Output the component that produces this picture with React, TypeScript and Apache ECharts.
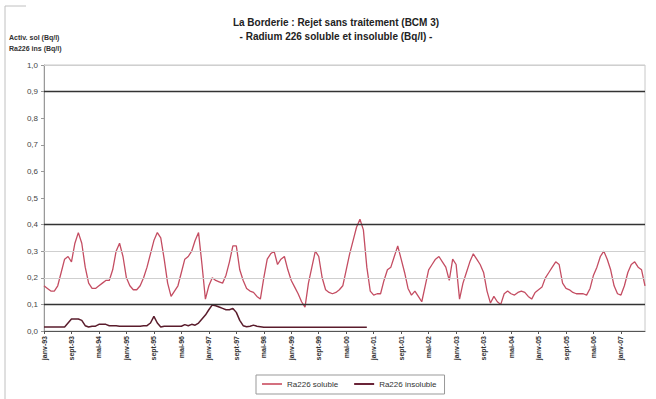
import React, { useEffect, useRef } from "react";
import * as echarts from "echarts";

const monthNames = ["janv", "févr", "mars", "avr", "mai", "juin", "juil", "août", "sept", "oct", "nov", "déc"];
const startYear = 1993;
const monthCount = 176;

const categories: string[] = [];
for (let i = 0; i < monthCount; i++) {
  const m = i % 12;
  const y = (startYear + Math.floor(i / 12)) % 100;
  categories.push(`${monthNames[m]}-${String(y).padStart(2, "0")}`);
}

const ra226Soluble = [
  0.17, 0.16, 0.15, 0.15, 0.17, 0.22, 0.27, 0.28, 0.26, 0.33,
  0.37, 0.33, 0.24, 0.18, 0.16, 0.16, 0.17, 0.18, 0.19, 0.19,
  0.23, 0.30, 0.33, 0.28, 0.20, 0.17, 0.155, 0.155, 0.17, 0.20,
  0.24, 0.29, 0.34, 0.37, 0.35, 0.27, 0.18, 0.13, 0.15, 0.17,
  0.22, 0.27, 0.28, 0.30, 0.34, 0.37, 0.25, 0.12, 0.17, 0.20,
  0.19, 0.185, 0.18, 0.21, 0.26, 0.32, 0.32, 0.23, 0.19, 0.16,
  0.15, 0.145, 0.13, 0.12, 0.20, 0.27, 0.29, 0.30, 0.25, 0.27,
  0.28, 0.23, 0.19, 0.165, 0.14, 0.11, 0.09, 0.18, 0.24, 0.30,
  0.28, 0.20, 0.155, 0.145, 0.14, 0.145, 0.155, 0.17, 0.23, 0.29,
  0.34, 0.39, 0.42, 0.38, 0.24, 0.15, 0.135, 0.14, 0.14, 0.19,
  0.23, 0.24, 0.28, 0.32, 0.27, 0.22, 0.16, 0.135, 0.15, 0.13,
  0.11, 0.17, 0.23, 0.25, 0.27, 0.28, 0.26, 0.24, 0.19, 0.27,
  0.25, 0.12, 0.18, 0.22, 0.26, 0.29, 0.27, 0.25, 0.22, 0.15,
  0.105, 0.13, 0.11, 0.10, 0.14, 0.15, 0.14, 0.135, 0.145, 0.15,
  0.145, 0.13, 0.12, 0.145, 0.155, 0.165, 0.20, 0.22, 0.24, 0.26,
  0.25, 0.18, 0.16, 0.155, 0.145, 0.14, 0.14, 0.14, 0.135, 0.16,
  0.21, 0.24, 0.28, 0.30, 0.27, 0.23, 0.17, 0.14, 0.135, 0.17,
  0.22, 0.25, 0.26, 0.24, 0.23, 0.17,
];

const ra226Insoluble = [
  0.015, 0.015, 0.015, 0.015, 0.015, 0.015, 0.015, 0.03, 0.045, 0.045,
  0.045, 0.04, 0.02, 0.015, 0.018, 0.018, 0.025, 0.025, 0.025, 0.02,
  0.02, 0.02, 0.018, 0.018, 0.018, 0.018, 0.018, 0.018, 0.018, 0.02,
  0.02, 0.03, 0.055, 0.03, 0.015, 0.018, 0.018, 0.018, 0.018, 0.018,
  0.018, 0.024, 0.02, 0.025, 0.022, 0.03, 0.045, 0.06, 0.08, 0.098,
  0.095, 0.09, 0.085, 0.08, 0.08, 0.085, 0.07, 0.04, 0.02, 0.016,
  0.018, 0.022, 0.018, 0.016, 0.014, 0.014, 0.014, 0.014, 0.014, 0.014,
  0.014, 0.014, 0.014, 0.014, 0.014, 0.014, 0.014, 0.014, 0.014, 0.014,
  0.014, 0.014, 0.014, 0.014, 0.014, 0.014, 0.014, 0.014, 0.014, 0.014,
  0.014, 0.014, 0.014, 0.014, 0.014,
];

const darkRefLines = [0.9, 0.4, 0.1];
const lightRefLines = [1.0, 0.3, 0.2];

const titleLines = [
  "La Borderie : Rejet sans traitement (BCM 3)",
  "- Radium 226 soluble et insoluble (Bq/l) -",
];
const yAxisNames = ["Activ. sol (Bq/l)", "Ra226 ins (Bq/l)"];
const seriesNames = ["Ra226 soluble", "Ra226 insoluble"];

export default function App() {
  const ref = useRef<HTMLDivElement>(null);
  useEffect(() => {
    if (!ref.current) return;
    const chart = echarts.init(ref.current, null, { renderer: "svg" });
    const font = "'Liberation Sans', Arial, sans-serif";
    chart.setOption({
      animation: false,
      backgroundColor: "#ffffff",
      textStyle: { fontFamily: font },
      grid: {
        left: 44,
        right: 11,
        top: 65,
        bottom: 68,
        show: true,
        borderColor: "#c8c8c8",
        borderWidth: 1,
      },
      graphic: [
        {
          type: "polyline",
          shape: { points: [[26, 6], [5, 6], [5, 399]] },
          style: { stroke: "#c0c0c0", lineWidth: 1, fill: "none" },
          silent: true,
        },
        {
          type: "text",
          x: 336,
          y: 22,
          style: {
            text: titleLines[0],
            fontSize: 10,
            fontWeight: "bold",
            fontFamily: font,
            fill: "#222",
            textAlign: "center",
            textVerticalAlign: "middle",
          },
        },
        {
          type: "text",
          x: 336,
          y: 36,
          style: {
            text: titleLines[1],
            fontSize: 10,
            fontWeight: "bold",
            fontFamily: font,
            fill: "#222",
            textAlign: "center",
            textVerticalAlign: "middle",
          },
        },
        {
          type: "text",
          x: 9,
          y: 37,
          style: {
            text: yAxisNames[0],
            fontSize: 7,
            fontWeight: "bold",
            fontFamily: font,
            fill: "#333",
            textVerticalAlign: "middle",
          },
        },
        {
          type: "text",
          x: 9,
          y: 48,
          style: {
            text: yAxisNames[1],
            fontSize: 7,
            fontWeight: "bold",
            fontFamily: font,
            fill: "#333",
            textVerticalAlign: "middle",
          },
        },
      ],
      legend: {
        data: seriesNames,
        left: 256,
        top: 375,
        orient: "horizontal",
        icon: "rect",
        itemWidth: 20,
        itemHeight: 2,
        itemGap: 16,
        padding: [5, 8, 6, 6],
        borderColor: "#999",
        borderWidth: 1,
        textStyle: { fontSize: 8, color: "#333", fontFamily: font },
      },
      xAxis: {
        type: "category",
        data: categories,
        boundaryGap: false,
        axisLine: { lineStyle: { color: "#555", width: 1 } },
        axisTick: { show: true, interval: 7, length: 3, lineStyle: { color: "#555" } },
        axisLabel: {
          interval: 7,
          rotate: 90,
          fontSize: 7,
          fontWeight: "bold",
          color: "#333",
          margin: 5,
        },
        splitLine: { show: false },
      },
      yAxis: {
        type: "value",
        min: 0,
        max: 1,
        interval: 0.1,
        axisLine: { show: true, lineStyle: { color: "#999" } },
        axisTick: { show: true, length: 3, lineStyle: { color: "#999" } },
        axisLabel: {
          fontSize: 8,
          color: "#444",
          margin: 6,
          formatter: (v: number) => v.toFixed(1).replace(".", ","),
        },
        splitLine: { show: false },
      },
      series: [
        {
          name: seriesNames[0],
          type: "line",
          data: ra226Soluble,
          symbol: "none",
          lineStyle: { color: "#c44d62", width: 1.3 },
          itemStyle: { color: "#d4707f" },
          z: 3,
          markLine: {
            silent: true,
            symbol: "none",
            label: { show: false },
            data: [
              ...darkRefLines.map((v) => ({ yAxis: v, lineStyle: { color: "#333", width: 1.3, type: "solid" } })),
              ...lightRefLines.map((v) => ({ yAxis: v, lineStyle: { color: "#cfcfcf", width: 1, type: "solid" } })),
            ],
          },
        },
        {
          name: seriesNames[1],
          type: "line",
          data: ra226Insoluble,
          symbol: "none",
          lineStyle: { color: "#5a1c2c", width: 1.5 },
          itemStyle: { color: "#6a2438" },
          z: 4,
        },
      ],
    });
    return () => chart.dispose();
  }, []);
  return (
    <div
      ref={ref}
      style={{ position: "fixed", left: 0, top: 0, width: 656, height: 399, background: "#fff" }}
    />
  );
}
